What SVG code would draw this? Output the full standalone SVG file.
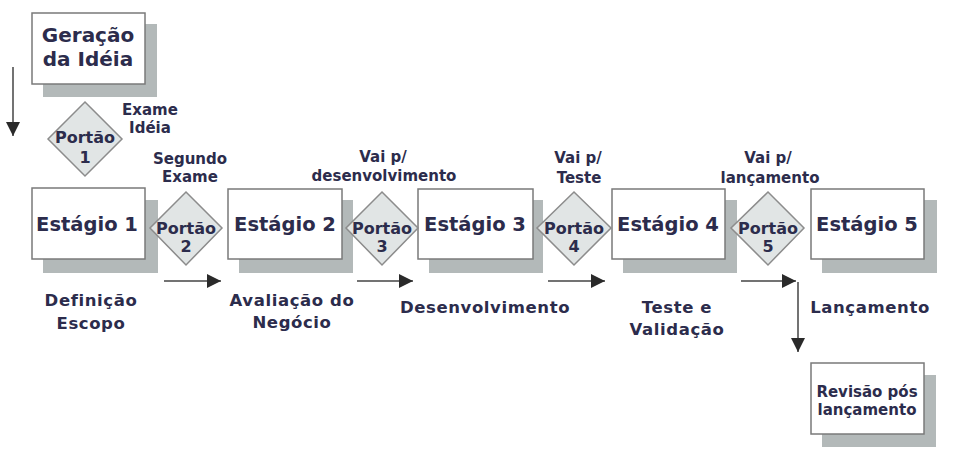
<svg xmlns="http://www.w3.org/2000/svg" width="962" height="459" viewBox="0 0 962 459">
<defs>
<style>
.shadow{fill:#b3b9b9}
.box{fill:#ffffff;stroke:#7a7a7a;stroke-width:1.5}
.gate{fill:#e1e5e5;stroke:#8c8c8c;stroke-width:1.5}
text{font-family:"DejaVu Sans","Liberation Sans",sans-serif;fill:#2c2c4c;text-anchor:middle}
.stage{font-size:19.5px;font-weight:bold}
.big{font-size:20px;font-weight:bold}
.gt{font-size:16px;font-weight:bold}
.lbl{font-size:15px;font-weight:bold}
.low{font-size:16.5px;font-weight:bold;letter-spacing:0.6px}
.rev{font-size:15px;font-weight:bold}
.line{stroke:#444;stroke-width:1.5;fill:none}
</style>
<marker id="ah" viewBox="0 0 10 10" refX="10" refY="5" markerWidth="14" markerHeight="14" markerUnits="userSpaceOnUse" orient="auto">
<path d="M0,0 L10,5 L0,10 z" fill="#2a2a2a"/>
</marker>
</defs>

<g id="geracao">
<rect class="shadow" x="43" y="24" width="114" height="73"/>
<rect class="box" x="32" y="13" width="113" height="71"/>
<text class="big" x="88" y="42">Geração</text>
<text class="big" x="88" y="66">da Idéia</text>
</g>

<g id="portao1">
<polygon class="gate" points="85,102 122,139 85,176 48,139"/>
<text class="gt" x="85" y="143">Portão</text>
<text class="gt" x="85" y="163">1</text>
</g>
<text class="lbl" x="150" y="115">Exame</text>
<text class="lbl" x="150" y="133">Idéia</text>

<g id="estagio1">
<rect class="shadow" x="43" y="200" width="115" height="73"/>
<rect class="box" x="32" y="188" width="113" height="71"/>
<text class="stage" x="87" y="231">Estágio 1</text>
</g>
<g id="estagio2">
<rect class="shadow" x="239" y="200" width="114" height="73"/>
<rect class="box" x="228" y="189" width="114" height="70"/>
<text class="stage" x="285" y="231">Estágio 2</text>
</g>
<g id="estagio3">
<rect class="shadow" x="429" y="200" width="114" height="73"/>
<rect class="box" x="418" y="189" width="115" height="70"/>
<text class="stage" x="475" y="231">Estágio 3</text>
</g>
<g id="estagio4">
<rect class="shadow" x="623" y="200" width="114" height="73"/>
<rect class="box" x="612" y="189" width="113" height="70"/>
<text class="stage" x="668" y="231">Estágio 4</text>
</g>
<g id="estagio5">
<rect class="shadow" x="822" y="200" width="115" height="73"/>
<rect class="box" x="811" y="189" width="113" height="70"/>
<text class="stage" x="867" y="231">Estágio 5</text>
</g>

<g id="portao2">
<polygon class="gate" points="186,192 222,228 186,265 150,228"/>
<text class="gt" x="186" y="234">Portão</text>
<text class="gt" x="186" y="252">2</text>
</g>
<g id="portao3">
<polygon class="gate" points="382,192 418,228 382,265 346,228"/>
<text class="gt" x="382" y="234">Portão</text>
<text class="gt" x="382" y="252">3</text>
</g>
<g id="portao4">
<polygon class="gate" points="574,192 611,228 574,265 537,228"/>
<text class="gt" x="574" y="234">Portão</text>
<text class="gt" x="574" y="252">4</text>
</g>
<g id="portao5">
<polygon class="gate" points="768,192 804,228 768,265 731,228"/>
<text class="gt" x="768" y="234">Portão</text>
<text class="gt" x="768" y="252">5</text>
</g>

<text class="lbl" x="190" y="164">Segundo</text>
<text class="lbl" x="190" y="182">Exame</text>
<text class="lbl" x="383" y="162">Vai p/</text>
<text class="lbl" x="384" y="181">desenvolvimento</text>
<text class="lbl" x="578" y="163">Vai p/</text>
<text class="lbl" x="579" y="183">Teste</text>
<text class="lbl" x="768" y="163">Vai p/</text>
<text class="lbl" x="770" y="183">lançamento</text>

<text class="low" x="91" y="306">Definição</text>
<text class="low" x="91" y="329">Escopo</text>
<text class="low" x="292" y="306">Avaliação do</text>
<text class="low" x="292" y="328">Negócio</text>
<text class="low" x="485" y="313">Desenvolvimento</text>
<text class="low" x="677" y="313">Teste e</text>
<text class="low" x="677" y="335">Validação</text>
<text class="low" x="870" y="313">Lançamento</text>

<g id="revisao">
<rect class="shadow" x="822" y="375" width="114" height="72"/>
<rect class="box" x="811" y="363" width="113" height="71"/>
<text class="rev" x="867" y="397">Revisão pós</text>
<text class="rev" x="867" y="415">lançamento</text>
</g>

<g id="connectors">
<line class="line" x1="13" y1="67" x2="13" y2="136" marker-end="url(#ah)"/>
<line class="line" x1="164" y1="281" x2="221" y2="281" marker-end="url(#ah)"/>
<line class="line" x1="357" y1="281" x2="413" y2="281" marker-end="url(#ah)"/>
<line class="line" x1="548" y1="281" x2="605" y2="281" marker-end="url(#ah)"/>
<line class="line" x1="741" y1="281" x2="796" y2="281" marker-end="url(#ah)"/>
<line class="line" x1="798" y1="282" x2="798" y2="352" marker-end="url(#ah)"/>
</g>
</svg>
